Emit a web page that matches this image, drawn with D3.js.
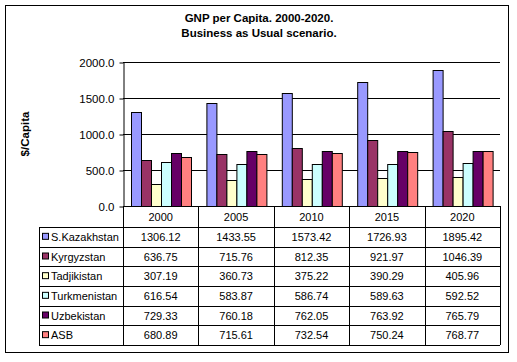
<!DOCTYPE html>
<html>
<head>
<meta charset="utf-8">
<script src="https://cdn.jsdelivr.net/npm/d3@7"></script>
<style>
  body { margin: 0; background: #fff; }
  svg { font-family: "Liberation Sans", Arial, sans-serif; }
</style>
</head>
<body>
<div id="chart"></div>
<script>
const years = ["2000", "2005", "2010", "2015", "2020"];
const countries = ["S.Kazakhstan", "Kyrgyzstan", "Tadjikistan", "Turkmenistan", "Uzbekistan", "ASB"];
const kazakhstan = [1306.12, 1433.55, 1573.42, 1726.93, 1895.42];
const kyrgyzstan = [636.75, 715.76, 812.35, 921.97, 1046.39];
const tadjikistan = [307.19, 360.73, 375.22, 390.29, 405.96];
const turkmenistan = [616.54, 583.87, 586.74, 589.63, 592.52];
const uzbekistan = [729.33, 760.18, 762.05, 763.92, 765.79];
const asb = [680.89, 715.61, 732.54, 750.24, 768.77];
const yTicks = [0, 500, 1000, 1500, 2000];

const colors = ["#9999FF", "#993366", "#FFFFCC", "#CCFFFF", "#660066", "#FF8080"];
const series = [kazakhstan, kyrgyzstan, tadjikistan, turkmenistan, uzbekistan, asb];

const width = 517, height = 362;
const plot = { left: 123, right: 500, top: 62, bottom: 206 };
const table = { left: 39, headerBottom: 227, bottom: 345 };

const svg = d3
  .select("#chart")
  .append("svg")
  .attr("width", width)
  .attr("height", height);

// outer chart border
svg.append("rect")
  .attr("x", 5.5).attr("y", 5.5)
  .attr("width", 503).attr("height", 347)
  .attr("fill", "#fff")
  .attr("stroke", "#000");

// title
const title = svg.append("text")
  .attr("text-anchor", "middle")
  .attr("font-weight", "bold")
  .style("font-size", "11.5px");
title.append("tspan").attr("x", 259).attr("y", 22).text("GNP per Capita. 2000-2020.");
title.append("tspan").attr("x", 259).attr("y", 37).text("Business as Usual scenario.");

const x0 = d3.scaleBand().domain(years).range([plot.left, plot.right]);
const x1 = d3.scaleBand().domain(countries).range([0, x0.bandwidth()]).paddingOuter(0.75);
const y = d3.scaleLinear().domain([0, 2000]).range([plot.bottom, plot.top]);

// gridlines
svg.append("g")
  .selectAll("line")
  .data(yTicks.slice(1))
  .enter()
  .append("line")
  .attr("x1", plot.left).attr("x2", plot.right)
  .attr("y1", (d) => Math.round(y(d)) + 0.5)
  .attr("y2", (d) => Math.round(y(d)) + 0.5)
  .attr("stroke", "#000");

// bars
const groups = svg.append("g")
  .selectAll("g")
  .data(years)
  .enter()
  .append("g")
  .attr("transform", (d) => `translate(${x0(d)},0)`);

groups.selectAll("rect")
  .data((d, i) => countries.map((c, k) => ({ c: c, v: series[k][i], k: k })))
  .enter()
  .append("rect")
  .attr("x", (d) => Math.round(x1(d.c)) + 0.5)
  .attr("y", (d) => Math.round(y(d.v)) + 0.5)
  .attr("width", Math.round(x1.bandwidth()))
  .attr("height", (d) => Math.round(y(0)) - Math.round(y(d.v)))
  .attr("fill", (d) => colors[d.k])
  .attr("stroke", "#000");

// y axis
const yAxis = svg.append("g")
  .attr("transform", `translate(${plot.left + 0.5},0.5)`)
  .call(d3.axisLeft(y).tickValues(yTicks).tickFormat(d3.format(".1f")).tickSize(4).tickSizeOuter(0));
yAxis.select(".domain").attr("stroke", "#000");
yAxis.selectAll("line").attr("stroke", "#000");
yAxis.selectAll("text")
  .attr("fill", "#000")
  .style("font-size", "11.5px")
  .style("font-family", "Liberation Sans, Arial, sans-serif")
  .attr("x", -9);

svg.append("text")
  .attr("transform", `translate(29,${(plot.top + plot.bottom) / 2}) rotate(-90)`)
  .attr("text-anchor", "middle")
  .attr("font-weight", "bold")
  .style("font-size", "11.5px")
  .text("$/Capita");

// data table
const rowY = d3.scaleBand().domain(countries).range([table.headerBottom, table.bottom]);
const grid = svg.append("g").attr("stroke", "#000");

grid.append("line")
  .attr("x1", plot.left).attr("x2", plot.right)
  .attr("y1", plot.bottom + 0.5).attr("y2", plot.bottom + 0.5);

countries.forEach((c) => {
  grid.append("line")
    .attr("x1", table.left).attr("x2", plot.right)
    .attr("y1", Math.round(rowY(c)) + 0.5).attr("y2", Math.round(rowY(c)) + 0.5);
});
grid.append("line")
  .attr("x1", table.left).attr("x2", plot.right)
  .attr("y1", table.bottom + 0.5).attr("y2", table.bottom + 0.5);

grid.append("line")
  .attr("x1", table.left + 0.5).attr("x2", table.left + 0.5)
  .attr("y1", table.headerBottom).attr("y2", table.bottom);
grid.append("line")
  .attr("x1", plot.left + 0.5).attr("x2", plot.left + 0.5)
  .attr("y1", plot.bottom).attr("y2", table.bottom);

years.forEach((yr) => {
  const xr = Math.round(x0(yr) + x0.bandwidth()) + 0.5;
  grid.append("line")
    .attr("x1", xr).attr("x2", xr)
    .attr("y1", plot.bottom).attr("y2", table.bottom);
});

// header labels
svg.append("g")
  .selectAll("text")
  .data(years)
  .enter()
  .append("text")
  .attr("x", (d) => x0(d) + x0.bandwidth() / 2)
  .attr("y", (plot.bottom + table.headerBottom) / 2 + 4)
  .attr("text-anchor", "middle")
  .style("font-size", "11px")
  .text((d) => d);

// legend keys + names
const rows = svg.append("g")
  .selectAll("g")
  .data(countries)
  .enter()
  .append("g")
  .attr("transform", (d) => `translate(0,${rowY(d) + rowY.bandwidth() / 2})`);

rows.append("rect")
  .attr("x", 42.5).attr("y", -3.5)
  .attr("width", 6).attr("height", 6)
  .attr("fill", (d, i) => colors[i])
  .attr("stroke", "#000");

rows.append("text")
  .attr("x", 51)
  .attr("y", 4)
  .style("font-size", "11px")
  .text((d) => d);

rows.each(function (c, k) {
  d3.select(this)
    .selectAll(".val")
    .data(series[k])
    .enter()
    .append("text")
    .attr("class", "val")
    .attr("x", (d, i) => x0(years[i]) + x0.bandwidth() / 2)
    .attr("y", 4)
    .attr("text-anchor", "middle")
    .style("font-size", "11px")
    .text((d) => d.toFixed(2));
});
</script>
</body>
</html>
